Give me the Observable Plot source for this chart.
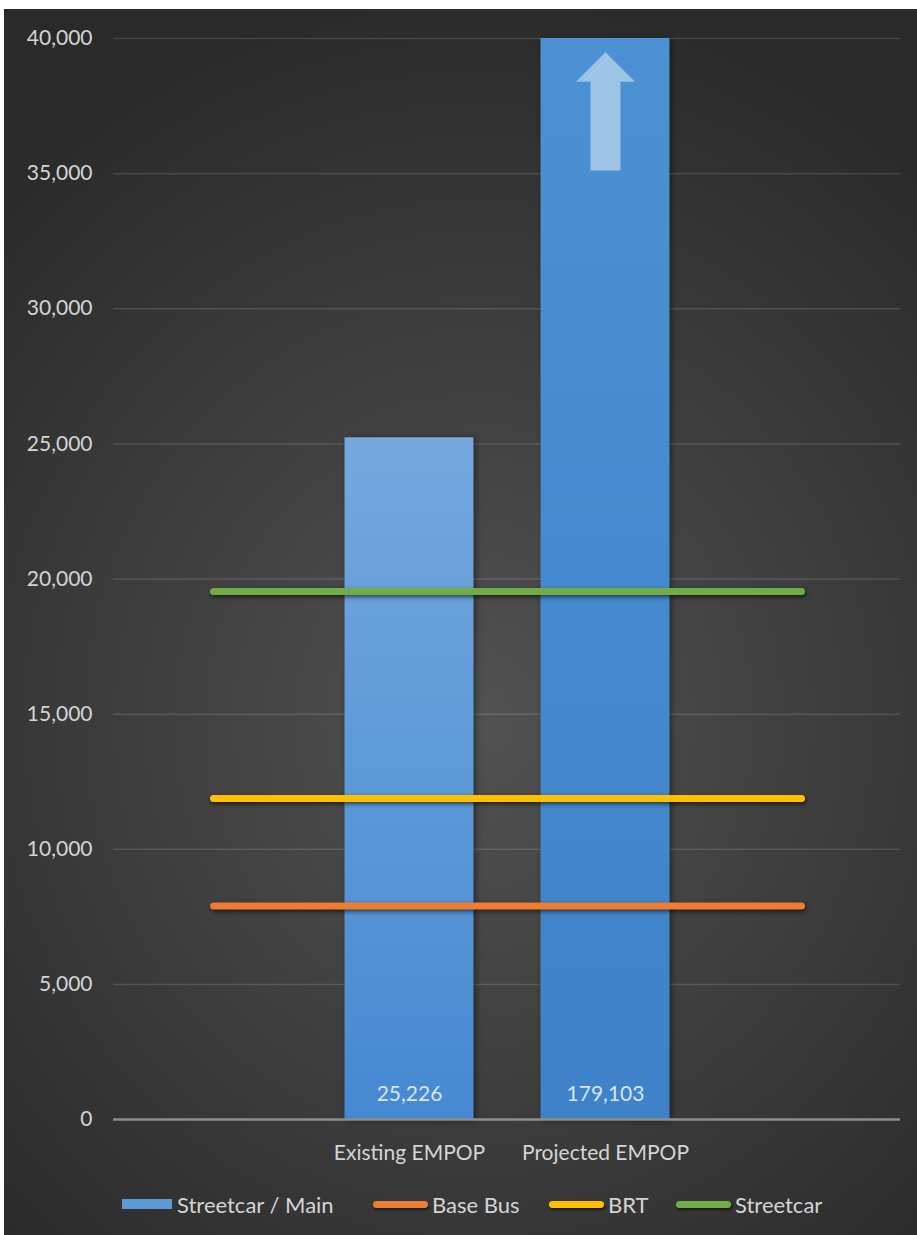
<!DOCTYPE html>
<html>
<head>
<meta charset="utf-8">
<script src="https://cdn.jsdelivr.net/npm/d3@7"></script>
<script src="https://cdn.jsdelivr.net/npm/@observablehq/plot@0.6"></script>
<style>
  html, body { margin: 0; padding: 0; background: #ffffff; }
  #frame {
    position: absolute; left: 4px; top: 9px; width: 913px; height: 1226px;
    background: radial-gradient(ellipse 75% 60% at 52% 58%, #525252 0%, #3c3c3c 55%, #2a2a2a 100%);
    overflow: hidden;
    font-family: Lato, "Open Sans", sans-serif;
  }
  #chart { position: absolute; left: 0; top: 0; }
  .legend-item { position: absolute; top: 1183px; height: 24px; display: flex; align-items: center; color: #d4d4d4; font-size: 22px; }
  .sw-rect { width: 50px; height: 10px; margin-right: 5px; }
  .sw-line { width: 55px; height: 7px; border-radius: 4px; margin-right: 4px; box-shadow: 1px 2px 2px rgba(0,0,0,0.5); }
  svg g[aria-label="line"] { filter: drop-shadow(1px 2px 2px rgba(0,0,0,0.6)); }
  svg g[aria-label="bar"] { filter: drop-shadow(2px 1px 3px rgba(0,0,0,0.45)); }
</style>
</head>
<body>
<div id="frame">
  <div id="chart"></div>
  <div id="legend"></div>
</div>
<script>
// ---- data ----
const categories = ["padLeft", "Existing EMPOP", "Projected EMPOP", "padRight"];
const barCategories = ["Existing EMPOP", "Projected EMPOP"];
const barValues = [25226, 179103];
const barGradients = ["url(#gradExisting)", "url(#gradProjected)"];
const yMax = 40000;
const yTicks = [0, 5000, 10000, 15000, 20000, 25000, 30000, 35000, 40000];
const lineSeries = ["Base Bus", "BRT", "Streetcar"];
const lineValues = [7900, 11880, 19540];
const lineColors = ["#ed7d31", "#ffc000", "#70ad47"];
const lineSpan = ["padLeft", "padRight"];
const arrowCategory = "Projected EMPOP";
const arrowTail = 35100, arrowHeadBase = 38400;
const legendLabels = ["Streetcar / Main", "Base Bus", "BRT", "Streetcar"];
const legendColors = ["#5b9bd5", "#ed7d31", "#ffc000", "#70ad47"];

// ---- derived tables ----
const bars = barCategories.map((c, i) => ({cat: c, value: barValues[i], shown: Math.min(barValues[i], yMax), fill: barGradients[i]}));
const lines = [];
lineSeries.forEach((s, i) => lineSpan.forEach(c => lines.push({series: s, cat: c, value: lineValues[i], color: lineColors[i]})));

const flatTriangle = {
  draw(context, size) {
    const r = Math.sqrt(size / Math.PI);
    context.moveTo(-r, 0);
    context.lineTo(r, 0);
    context.lineTo(0, -r);
    context.closePath();
  }
};

const barMarks = bars.map(b => Plot.barY([b], {x: "cat", y: "shown", fill: b.fill, insetLeft: 33.5, insetRight: 33.5}));
const lineMarks = lineSeries.map((s, i) => Plot.line(lines.filter(d => d.series === s), {
  x: "cat", y: "value", stroke: lineColors[i], strokeWidth: 7, strokeLinecap: "round"
}));

const chart = Plot.plot({
  width: 913,
  height: 1175,
  marginLeft: 109,
  marginRight: 17,
  marginTop: 29,
  marginBottom: 65,
  style: {background: "transparent", color: "#d4d4d4", fontFamily: "Lato, 'Open Sans', sans-serif", fontSize: "20px"},
  x: {type: "band", domain: categories, paddingInner: 0, paddingOuter: 0, label: null},
  y: {domain: [0, yMax], label: null},
  marks: [
    Plot.gridY(yTicks.filter(t => t > 0), {stroke: "#ffffff", strokeOpacity: 0.13, strokeWidth: 1.5}),
    ...barMarks,
    Plot.ruleY([0], {stroke: "#8e8e8e", strokeWidth: 2.5}),
    Plot.ruleX([arrowCategory], {y1: arrowTail, y2: arrowHeadBase, stroke: "#9dc3e6", strokeWidth: 30}),
    Plot.dot([arrowCategory], {x: d => d, y: arrowHeadBase, r: 29.5, symbol: flatTriangle, fill: "#9dc3e6", stroke: null}),
    ...lineMarks,
    Plot.text(bars, {x: "cat", y: 0, text: d => d3.format(",")(d.value), dy: -25, fill: "#d6e6f6", fontSize: 21}),
    Plot.axisY(yTicks, {tickSize: 0, tickPadding: 21, tickFormat: d3.format(","), fontSize: 21, fill: "#d4d4d4"}),
    Plot.axisX({tickSize: 0, tickPadding: 26, tickFormat: d => d.startsWith("pad") ? "" : d, fontSize: 21, fill: "#d4d4d4"})
  ]
});

// gradient defs for bars
const svgNS = "http://www.w3.org/2000/svg";
const defs = document.createElementNS(svgNS, "defs");
defs.innerHTML = `
  <linearGradient id="gradExisting" x1="0" y1="0" x2="0" y2="1">
    <stop offset="0%" stop-color="#74a8de"/>
    <stop offset="100%" stop-color="#4689d2"/>
  </linearGradient>
  <linearGradient id="gradProjected" x1="0" y1="0" x2="0" y2="1">
    <stop offset="0%" stop-color="#4b91d3"/>
    <stop offset="100%" stop-color="#3f82c9"/>
  </linearGradient>`;
chart.insertBefore(defs, chart.firstChild);
document.getElementById("chart").appendChild(chart);

// legend
const legend = document.getElementById("legend");
const legendLefts = [118, 369, 545, 672];
legendLabels.forEach((lab, i) => {
  const item = document.createElement("div");
  item.className = "legend-item";
  item.style.left = legendLefts[i] + "px";
  const sw = document.createElement("div");
  sw.className = i === 0 ? "sw-rect" : "sw-line";
  sw.style.background = legendColors[i];
  const tx = document.createElement("span");
  tx.textContent = lab;
  item.appendChild(sw);
  item.appendChild(tx);
  legend.appendChild(item);
});
</script>
</body>
</html>
